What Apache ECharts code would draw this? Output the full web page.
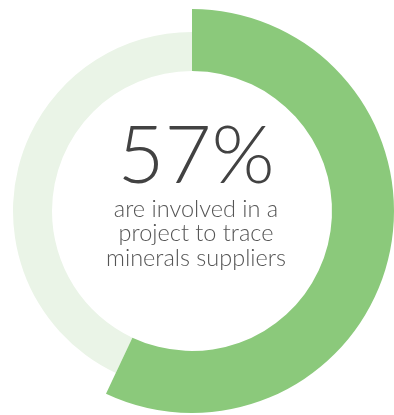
<!DOCTYPE html>
<html>
<head>
<meta charset="utf-8">
<script src="https://cdn.jsdelivr.net/npm/echarts@6/dist/echarts.min.js"></script>
<style>
  html, body { margin: 0; padding: 0; background: #ffffff; }
  #chart { width: 394px; height: 415px; }
</style>
</head>
<body>
<div id="chart"></div>
<script>
// Share of respondents involved in a supplier tracing project
const categories = ['Involved', 'Not involved'];
const shareValues = [57, 43];
const captionLines = ['are involved in a', 'project to trace', 'minerals suppliers'];

const GREEN = '#8bc97b';
const PALE = '#eaf4e7';

const chart = echarts.init(document.getElementById('chart'), null, { renderer: 'canvas' });

const ringCenter = [192, 211];

chart.setOption({
  animation: false,
  backgroundColor: '#ffffff',
  series: [
    {
      // thin pale track showing the remaining share
      type: 'pie',
      center: ringCenter,
      radius: [140, 179],
      startAngle: 90,
      clockwise: true,
      silent: true,
      label: { show: false },
      labelLine: { show: false },
      data: categories.map((name, i) => ({
        name,
        value: shareValues[i],
        itemStyle: { color: i === 0 ? 'rgba(0,0,0,0)' : PALE }
      }))
    },
    {
      // wider highlighted arc for the headline share
      type: 'pie',
      center: ringCenter,
      radius: [140, 202],
      startAngle: 90,
      clockwise: true,
      silent: true,
      label: { show: false },
      labelLine: { show: false },
      data: categories.map((name, i) => ({
        name,
        value: shareValues[i],
        itemStyle: { color: i === 0 ? GREEN : 'rgba(0,0,0,0)' }
      }))
    }
  ],
  graphic: [
    {
      type: 'text',
      x: 196,
      y: 157,
      style: {
        text: shareValues[0] + '%',
        fill: '#424242',
        font: '300 81px Lato, "Open Sans", sans-serif',
        textAlign: 'center',
        textVerticalAlign: 'middle'
      }
    },
    ...captionLines.map((line, i) => ({
      type: 'text',
      x: 196,
      y: 209 + i * 24.5,
      style: {
        text: line,
        fill: '#555555',
        font: '300 23.5px Lato, "Open Sans", sans-serif',
        textAlign: 'center',
        textVerticalAlign: 'middle'
      }
    }))
  ]
});
</script>
</body>
</html>
